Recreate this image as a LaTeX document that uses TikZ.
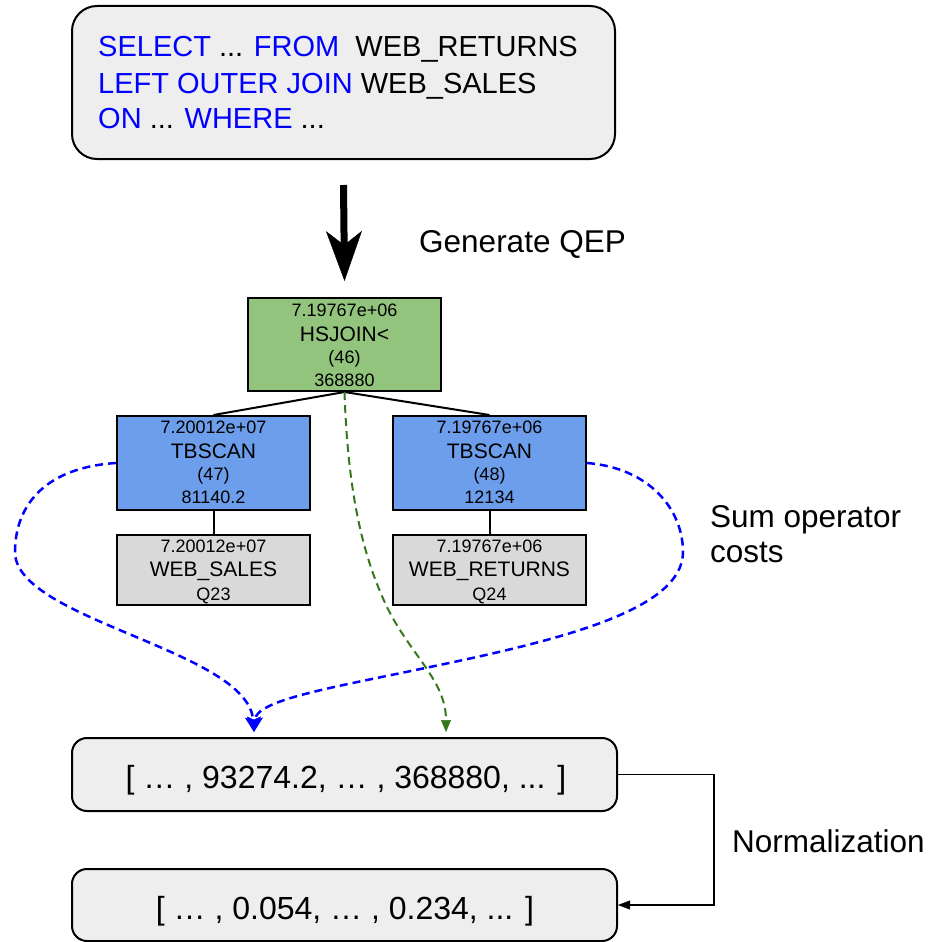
\documentclass[tikz,border=0pt]{standalone}
\usepackage{fontspec}
\setmainfont{Liberation Sans}
\usetikzlibrary{arrows.meta,calc}

\definecolor{sqlblue}{HTML}{0000FF}
\definecolor{joinfill}{HTML}{93C47D}
\definecolor{scanfill}{HTML}{6D9EEB}
\definecolor{tablefill}{HTML}{D9D9D9}
\definecolor{panelfill}{HTML}{EEEEEE}
\definecolor{flowgreen}{HTML}{38761D}

\tikzset{
  panel/.style={draw=black, line width=2pt, fill=panelfill, inner sep=0pt},
  opbox/.style={draw=black, line width=2pt, minimum width=193pt, inner sep=0pt},
  smalltxt/.style={anchor=base, inner sep=0pt, font=\fontsize{18}{20}\selectfont},
  bigtxt/.style={anchor=base, inner sep=0pt, font=\fontsize{21}{24}\selectfont},
  sqltxt/.style={anchor=base west, inner sep=0pt, font=\fontsize{29}{35}\selectfont},
  sidetxt/.style={anchor=base west, inner sep=0pt, font=\fontsize{31.5}{35}\selectfont},
  vectxt/.style={anchor=base, inner sep=0pt, font=\fontsize{32}{36}\selectfont},
  treeedge/.style={line width=2pt},
  costflow/.style={draw=sqlblue, line width=2.5pt, dash pattern=on 8pt off 5pt,
    -{Stealth[length=15pt,width=16pt,inset=3pt,line width=0.5pt]}},
  planflow/.style={draw=flowgreen, line width=2pt, dash pattern=on 8pt off 5pt,
    -{Triangle[length=12pt,width=10pt,line width=0.5pt]}},
  normline/.style={line width=1.6pt, -{Triangle[length=12pt,width=9pt,line width=0.5pt]}},
  genarrow/.style={line width=7pt, -{Stealth[length=50pt,width=36pt,inset=14pt,line width=0.5pt]}}
}

\begin{document}
\begin{tikzpicture}[x=1pt, y=-1pt]
\useasboundingbox (0,0) rectangle (930,942);

% query panel
\node[panel, rounded corners=25pt, minimum width=543pt, minimum height=153pt] (query) at (343.5,82.5) {};
\node[sqltxt] (sql1) at (98,57) {\textcolor{sqlblue}{SELECT} ... \textcolor{sqlblue}{FROM}\ \ WEB\_RETURNS};
\node[sqltxt] (sql2) at (98,93) {\textcolor{sqlblue}{LEFT OUTER JOIN} WEB\_SALES};
\node[sqltxt] (sql3) at (98,128) {\textcolor{sqlblue}{ON} ... \textcolor{sqlblue}{WHERE} ...};

% plan tree
\node[opbox, fill=joinfill, minimum height=93pt] (hsjoin) at (344.5,344.5) {};
\node[opbox, fill=scanfill, minimum height=94pt] (scanL) at (213.5,463) {};
\node[opbox, fill=scanfill, minimum height=94pt] (scanR) at (489.5,463) {};
\node[opbox, fill=tablefill, minimum height=70pt] (tabL) at (213.5,570) {};
\node[opbox, fill=tablefill, minimum height=70pt] (tabR) at (489.5,570) {};

\node[smalltxt] (hsjoin-a) at ($(hsjoin.north)+(0,19)$) {7.19767e+06};
\node[bigtxt]   (hsjoin-b) at ($(hsjoin.north)+(0,44)$) {HSJOIN<};
\node[smalltxt] (hsjoin-c) at ($(hsjoin.north)+(0,66)$) {(46)};
\node[smalltxt] (hsjoin-d) at ($(hsjoin.north)+(0,89)$) {368880};

\node[smalltxt] (scanL-a) at ($(scanL.north)+(0,18)$) {7.20012e+07};
\node[bigtxt]   (scanL-b) at ($(scanL.north)+(0,43)$) {TBSCAN};
\node[smalltxt] (scanL-c) at ($(scanL.north)+(0,65)$) {(47)};
\node[smalltxt] (scanL-d) at ($(scanL.north)+(0,88)$) {81140.2};

\node[smalltxt] (scanR-a) at ($(scanR.north)+(0,18)$) {7.19767e+06};
\node[bigtxt]   (scanR-b) at ($(scanR.north)+(0,43)$) {TBSCAN};
\node[smalltxt] (scanR-c) at ($(scanR.north)+(0,65)$) {(48)};
\node[smalltxt] (scanR-d) at ($(scanR.north)+(0,88)$) {12134};

\node[smalltxt] (tabL-a) at ($(tabL.north)+(0,18)$) {7.20012e+07};
\node[bigtxt]   (tabL-b) at ($(tabL.north)+(0,42)$) {WEB\_SALES};
\node[smalltxt] (tabL-c) at ($(tabL.north)+(0,66)$) {Q23};

\node[smalltxt] (tabR-a) at ($(tabR.north)+(0,18)$) {7.19767e+06};
\node[bigtxt]   (tabR-b) at ($(tabR.north)+(0,42)$) {WEB\_RETURNS};
\node[smalltxt] (tabR-c) at ($(tabR.north)+(0,66)$) {Q24};

\draw[treeedge] (hsjoin.south) -- (scanL.north);
\draw[treeedge] (hsjoin.south) -- (scanR.north);
\draw[treeedge] (scanL.south) -- (tabL.north);
\draw[treeedge] (scanR.south) -- (tabR.north);

% cost vectors
\node[panel, rounded corners=15pt, minimum width=545pt, minimum height=73pt] (vec) at (344.5,774.5) {};
\node[vectxt] (vec-txt) at (346,788) {[ … , 93274.2, … , 368880, ... ]};
\node[panel, rounded corners=15pt, minimum width=545pt, minimum height=72pt] (normvec) at (344.5,905) {};
\node[vectxt] (normvec-txt) at (345,919) {[ … , 0.054, … , 0.234, ... ]};

% QEP generation arrow
\coordinate (genfrom) at ($(query.south)+(0,25)$);
\coordinate (gento) at ($(hsjoin.north)+(0,-16)$);
\draw[genarrow] (genfrom) -- (gento);
\node[sidetxt] (genlabel) at (419,252) {Generate QEP};

% cost flows into the vector
\coordinate (sumtip) at ($(vec.north)+(-90.5,-5)$);
\coordinate (plantip) at ($(vec.north)+(101.5,-5)$);
\draw[costflow] (scanL.west) .. controls (40,468) and (15,510) .. (15,552)
  .. controls (15,620) and (248,650) .. (sumtip);
\draw[costflow] (scanR.east) .. controls (650,468) and (683,510) .. (683,552)
  .. controls (683,610) and (560,640) .. (430,667)
  .. controls (330,688) and (256,700) .. (sumtip);
\draw[planflow] (hsjoin.south) .. controls (348,500) and (365,560) .. (386,605)
  .. controls (410,655) and (446,680) .. (plantip);
\node[sidetxt] (sumlabel1) at (710,527) {Sum operator};
\node[sidetxt] (sumlabel2) at (710,562) {costs};

% normalization step
\draw[normline] (vec.east) -- ++(96,0) |- (normvec.east);
\node[sidetxt] (normlabel) at (732,852) {Normalization};
\end{tikzpicture}
\end{document}
